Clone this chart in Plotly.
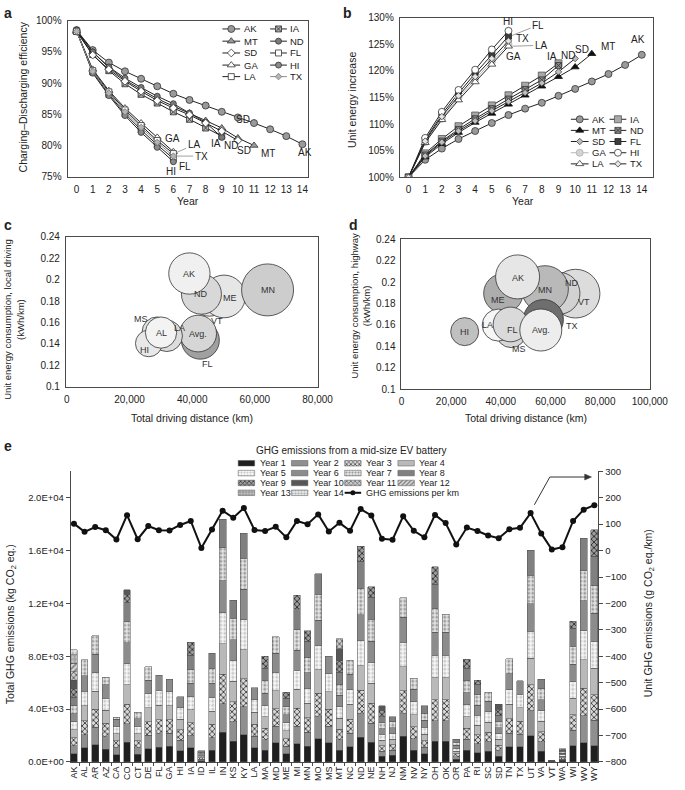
import plotly.graph_objects as go

W, H = 685, 790
FONT = "Liberation Sans, Arial, Helvetica, sans-serif"
INK = "#222222"
AXIS = "#4a4a4a"

# ---------------- Panel a: charging-discharging efficiency (%) ----------------
years = list(range(15))
eff_AK = [98.5, 95.3, 93.3, 91.9, 90.7, 89.5, 88.3, 87.3, 86.4, 85.4, 84.5, 83.6, 82.6, 81.5, 80.2]
eff_IA = [98.3, 94.6, 92.0, 89.9, 88.2, 86.8, 85.4, 84.2, 82.8, 81.5]
eff_MT = [98.3, 95.0, 92.5, 90.5, 89.0, 87.5, 86.3, 85.2, 84.0, 82.8, 81.2, 80.0]
eff_ND = [98.5, 95.0, 92.6, 90.8, 89.3, 87.9, 86.7, 85.2, 83.7, 81.3]
eff_SD = [98.3, 94.5, 92.2, 90.3, 88.7, 87.2, 86.0, 84.9, 83.6, 82.3, 80.8]
eff_FL = [98.3, 91.8, 88.2, 85.1, 82.5, 80.1, 77.9]
eff_GA = [98.3, 92.2, 88.8, 86.0, 83.6, 81.3, 79.0]
eff_HI = [98.5, 91.6, 88.0, 84.8, 82.1, 79.7, 77.4]
eff_LA = [98.3, 92.0, 88.6, 85.7, 83.2, 80.8, 78.7]
eff_TX = [98.3, 91.9, 88.4, 85.4, 82.9, 80.5, 78.3]

# ---------------- Panel b: unit energy increase (%) ----------------
inc_AK = [100, 103.3, 105.4, 107.2, 108.7, 110.2, 111.7, 112.9, 114.0, 115.3, 116.6, 118.0, 119.4, 121.1, 123.0]
inc_IA = [100, 104.5, 107.2, 109.6, 111.6, 113.5, 115.4, 117.2, 119.1, 121.4]
inc_MT = [100, 103.8, 106.3, 108.4, 110.3, 112.0, 113.7, 115.4, 117.1, 118.9, 120.7, 123.2]
inc_ND = [100, 104.2, 106.8, 109.0, 111.0, 112.9, 114.7, 116.5, 118.3, 121.0]
inc_SD = [100, 104.0, 106.6, 108.7, 110.6, 112.5, 114.2, 115.9, 117.7, 119.8, 122.3]
inc_FL = [100, 107.0, 111.8, 115.8, 119.5, 123.0, 126.5]
inc_GA = [100, 106.6, 111.0, 114.9, 118.4, 121.7, 125.0]
inc_HI = [100, 107.4, 112.3, 116.4, 120.2, 124.0, 127.5]
inc_LA = [100, 106.5, 110.8, 114.5, 117.9, 121.2, 124.6]
inc_TX = [100, 106.8, 111.4, 115.3, 118.9, 122.3, 125.6]

line_series = ["AK", "IA", "MT", "ND", "SD", "FL", "GA", "HI", "LA", "TX"]
a_ticks = [75, 80, 85, 90, 95, 100]
a_ticktext = ["75%", "80%", "85%", "90%", "95%", "100%"]
b_ticks = [100, 105, 110, 115, 120, 125, 130]
b_ticktext = ["100%", "105%", "110%", "115%", "120%", "125%", "130%"]

# ---------------- Panel c: local driving bubbles ----------------
c_states = ["VT", "ME", "ND", "AK", "MN", "FL", "Avg.", "LA", "MS", "HI", "AL"]
c_distance = [45500, 50150, 42950, 39100, 64050, 42600, 41900, 31900, 28800, 26150, 30050]
c_consumption = [0.1830, 0.1843, 0.1864, 0.2057, 0.1904, 0.1435, 0.1497, 0.1475, 0.1512, 0.1405, 0.1506]
c_bubble = [36.7, 42.7, 40.0, 41.3, 52.0, 38.0, 36.7, 31.3, 30.0, 26.7, 31.3]

# ---------------- Panel d: highway bubbles ----------------
d_states = ["VT", "ND", "MN", "ME", "AK", "TX", "MS", "LA", "FL", "Avg.", "HI"]
d_distance = [70100, 63400, 57800, 41000, 46750, 57150, 44150, 38950, 43900, 56100, 25450]
d_consumption = [0.1892, 0.1895, 0.1935, 0.1895, 0.2048, 0.1651, 0.1529, 0.1599, 0.1605, 0.1553, 0.1538]
d_bubble = [48.7, 42.0, 46.7, 39.3, 44.0, 40.0, 30.0, 32.0, 34.7, 42.0, 28.0]
cd_yticks = [0.1, 0.12, 0.14, 0.16, 0.18, 0.2, 0.22, 0.24]

# ---------------- Panel e: GHG emissions per state, by battery year ----------------
states = ["AK", "AL", "AR", "AZ", "CA", "CO", "CT", "DE", "FL", "GA", "HI", "IA", "ID", "IL", "IN",
          "KS", "KY", "LA", "MA", "MD", "ME", "MI", "MN", "MO", "MS", "MT", "NC", "ND", "NE", "NH",
          "NJ", "NM", "NV", "NY", "OH", "OK", "OR", "PA", "RI", "SC", "SD", "TN", "TX", "UT", "VA",
          "VT", "WA", "WI", "WV", "WY"]
seg_AK = [620, 600, 600, 610, 610, 620, 620, 630, 630, 640, 640, 650, 660, 370]
seg_AL = [1070, 990, 1040, 1140, 1120, 1170, 1190]
seg_AR = [1290, 1330, 1350, 1380, 1400, 1420, 1380]
seg_AZ = [950, 940, 1040, 990, 920, 990, 570]
seg_CA = [550, 520, 540, 540, 550, 540, 130]
seg_CO = [1490, 1390, 1490, 1490, 1590, 1560, 1610, 1440, 640, 320]
seg_CT = [570, 500, 530, 540, 560, 580, 465]
seg_DE = [1000, 1020, 1040, 1060, 1080, 1000, 1020]
seg_FL = [1120, 1030, 1060, 1100, 1120, 1140]
seg_GA = [1190, 1000, 1020, 1040, 1080, 945]
seg_HI = [850, 780, 800, 820, 840, 845]
seg_IA = [1070, 930, 960, 980, 1000, 1020, 1040, 1060, 990]
seg_ID = [100, 100, 100, 105, 105, 110, 110, 113]
seg_IL = [890, 960, 990, 1010, 1040, 1060, 1100, 1160]
seg_IN = [2230, 2170, 2230, 2300, 2360, 2420, 2500, 2170]
seg_KS = [1560, 1480, 1510, 1540, 1560, 1590, 1620, 1370]
seg_KY = [2060, 2100, 2150, 2200, 2250, 2300, 2350, 1900]
seg_LA = [1080, 860, 900, 920, 940, 900]
seg_MA = [870, 820, 850, 870, 890, 910, 930, 950, 920]
seg_MD = [1440, 1280, 1320, 1360, 1390, 1430, 1250]
seg_ME = [620, 560, 580, 590, 600, 610, 620, 630, 470]
seg_MI = [1360, 1340, 1380, 1420, 1460, 1500, 1540, 1580, 1020]
seg_MN = [1190, 1060, 1090, 1110, 1140, 1160, 1180, 1200, 790]
seg_MO = [1740, 1700, 1750, 1800, 1850, 1900, 1950, 1570]
seg_MS = [1440, 1260, 1300, 1330, 1360, 1320]
seg_MT = [890, 790, 810, 830, 850, 860, 870, 880, 890, 900, 755]
seg_NC = [1140, 1040, 1070, 1100, 1130, 1160, 1050]
seg_ND = [1885, 1750, 1800, 1850, 1900, 1950, 2000, 2050, 1135]
seg_NE = [1490, 1450, 1490, 1530, 1570, 1610, 1650, 1690, 790]
seg_NH = [420, 400, 410, 420, 430, 440, 450, 460, 470, 340]
seg_NJ = [500, 400, 410, 420, 430, 440, 450, 370]
seg_NM = [1930, 1700, 1760, 1810, 1860, 1910, 1450]
seg_NV = [870, 880, 910, 930, 950, 970, 840]
seg_NY = [620, 480, 500, 510, 520, 530, 540, 540]
seg_OH = [1560, 1550, 1600, 1650, 1700, 1750, 1800, 1850, 1320]
seg_OK = [1560, 1560, 1600, 1650, 1700, 1750, 1365]
seg_OR = [200, 200, 210, 215, 220, 225, 230, 236]
seg_PA = [890, 820, 850, 870, 890, 910, 930, 950, 650]
seg_RI = [690, 680, 700, 720, 740, 760, 780, 800, 330]
seg_SC = [795, 720, 740, 760, 780, 800, 685]
seg_SD = [446, 410, 420, 430, 440, 450, 460, 470, 480, 359]
seg_TN = [1140, 1050, 1080, 1110, 1140, 1170, 1120]
seg_TX = [1140, 960, 990, 1010, 1030, 1020]
seg_UT = [1985, 1900, 1950, 2000, 2050, 2100, 2150, 1885]
seg_VA = [795, 740, 760, 780, 800, 820, 840, 740]
seg_VT = [10, 10, 10, 10, 10, 10, 10, 10, 10, 10]
seg_WA = [110, 105, 108, 110, 112, 114, 116, 118, 97]
seg_WI = [1240, 1150, 1190, 1230, 1270, 1310, 1350, 1390, 530]
seg_WV = [1440, 2050, 2100, 2150, 2200, 2250, 2300, 2450]
seg_WY = [1240, 1900, 1950, 2000, 2050, 2100, 2150, 2200, 1970]

ghg_per_km = [102, 71, 89, 77, 42, 134, 43, 93, 77, 76, 97, 112, 10, 80, 151,
              124, 161, 78, 74, 90, 50, 112, 100, 137, 72, 105, 75, 157, 133, 45,
              41, 130, 75, 50, 135, 104, 23, 87, 74, 57, 47, 81, 86, 142, 65,
              4, 13, 112, 155, 172]

e_left_ticks = [0, 4000, 8000, 12000, 16000, 20000]
e_left_text = ["0.0E+00", "4.0E+03", "8.0E+03", "1.2E+04", "1.6E+04", "2.0E+04"]
e_right_ticks = [-800, -700, -600, -500, -400, -300, -200, -100, 0, 100, 200, 300]
year_names = ["Year %d" % k for k in range(1, 15)]

# ------------------------------------------------------------------------------
state_segments = [seg_AK, seg_AL, seg_AR, seg_AZ, seg_CA, seg_CO, seg_CT, seg_DE, seg_FL, seg_GA,
                  seg_HI, seg_IA, seg_ID, seg_IL, seg_IN, seg_KS, seg_KY, seg_LA, seg_MA, seg_MD,
                  seg_ME, seg_MI, seg_MN, seg_MO, seg_MS, seg_MT, seg_NC, seg_ND, seg_NE, seg_NH,
                  seg_NJ, seg_NM, seg_NV, seg_NY, seg_OH, seg_OK, seg_OR, seg_PA, seg_RI, seg_SC,
                  seg_SD, seg_TN, seg_TX, seg_UT, seg_VA, seg_VT, seg_WA, seg_WI, seg_WV, seg_WY]
a_values = dict(AK=eff_AK, IA=eff_IA, MT=eff_MT, ND=eff_ND, SD=eff_SD,
                FL=eff_FL, GA=eff_GA, HI=eff_HI, LA=eff_LA, TX=eff_TX)
b_values = dict(AK=inc_AK, IA=inc_IA, MT=inc_MT, ND=inc_ND, SD=inc_SD,
                FL=inc_FL, GA=inc_GA, HI=inc_HI, LA=inc_LA, TX=inc_TX)

# styles
a_style = {
    "AK": dict(sym="circle", fill="#9a9a9a", size=7, lc="#222", mlc="#333"),
    "IA": dict(sym="square-x", fill="#b0b0b0", size=6, lc="#222", mlc="#333"),
    "MT": dict(sym="triangle-up", fill="#9a9a9a", size=7, lc="#222", mlc="#333"),
    "ND": dict(sym="circle", fill="#7a7a7a", size=6, lc="#222", mlc="#333"),
    "SD": dict(sym="diamond", fill="#ffffff", size=6, lc="#222", mlc="#333"),
    "FL": dict(sym="square", fill="#ffffff", size=6, lc="#222", mlc="#333"),
    "GA": dict(sym="triangle-up", fill="#ffffff", size=7, lc="#222", mlc="#333"),
    "HI": dict(sym="circle", fill="#8a8a8a", size=6, lc="#222", mlc="#333"),
    "LA": dict(sym="square", fill="#ffffff", size=6, lc="#222", mlc="#333"),
    "TX": dict(sym="diamond", fill="#b4b4b4", size=5, lc="#8a8a8a", mlc="#777"),
}
b_style = {
    "AK": dict(sym="circle", fill="#9a9a9a", size=7, lc="#222", mlc="#333"),
    "IA": dict(sym="square", fill="#a8a8a8", size=7, lc="#222", mlc="#555"),
    "MT": dict(sym="triangle-up", fill="#111111", size=7, lc="#222", mlc="#111"),
    "ND": dict(sym="square-x", fill="#8a8a8a", size=6, lc="#222", mlc="#333"),
    "SD": dict(sym="diamond", fill="#bdbdbd", size=5, lc="#222", mlc="#444"),
    "FL": dict(sym="square", fill="#3c3c3c", size=6, lc="#222", mlc="#222"),
    "GA": dict(sym="circle", fill="#d4d4d4", size=7, lc="#b8b8b8", mlc="#b0b0b0"),
    "HI": dict(sym="circle", fill="#ffffff", size=7, lc="#222", mlc="#333"),
    "LA": dict(sym="triangle-up", fill="#ffffff", size=7, lc="#222", mlc="#333"),
    "TX": dict(sym="diamond", fill="#e4e4e4", size=5, lc="#222", mlc="#444"),
}
year_style = [
    dict(bg="#1f1f1f", shape="", fg="#1f1f1f"),
    dict(bg="#8f8f8f", shape="", fg="#8f8f8f"),
    dict(bg="#d8d8d8", shape="x", fg="#3a3a3a"),
    dict(bg="#b9b9b9", shape="", fg="#b9b9b9"),
    dict(bg="#f8f8f8", shape=".", fg="#c8c8c8"),
    dict(bg="#8c8c8c", shape="", fg="#8c8c8c"),
    dict(bg="#e6e6e6", shape=".", fg="#9a9a9a"),
    dict(bg="#808080", shape="", fg="#808080"),
    dict(bg="#9c9c9c", shape="x", fg="#2a2a2a"),
    dict(bg="#575757", shape="", fg="#575757"),
    dict(bg="#cbcbcb", shape="x", fg="#5a5a5a"),
    dict(bg="#d8d8d8", shape="/", fg="#777777"),
    dict(bg="#9d9d9d", shape=".", fg="#c4c4c4"),
    dict(bg="#e8e8e8", shape=".", fg="#b0b0b0"),
]
c_colors = ["#e4e4e4", "#e6e6e6", "#d8d8d8", "#f0f0f0", "#cdcdcd", "#a0a0a0",
            "#d6d6d6", "#dcdcdc", "#e4e4e4", "#e8e8e8", "#f3f3f3"]
c_shift = [(8, -23), (6, -2), (0, 0), (0, 0), (0, 0), (7, -24), (0, 0), (13, 8), (-16, 13), (-4, -7), (0, 0)]
d_colors = ["#dcdcdc", "#d2d2d2", "#b9b9b9", "#adadad", "#e6e6e6", "#6e6e6e",
            "#d6d6d6", "#f6f6f6", "#dadada", "#ededed", "#c0c0c0"]
d_shift = [(8, -8), (13, 10), (0, -1), (-5, -7), (0, -1), (29, -6), (8, -16), (-11, 0), (2, -6), (0, 0), (0, 0)]

BOX = {"a": (66.7, 15, 315, 173.3), "b": (410, 11.7, 671.7, 174),
       "c": (65, 234.3, 325, 386.7), "d": (411.7, 236.7, 668.3, 389.3),
       "e": (70, 472.5, 615, 767.6)}


def dom(key):
    x0, y0, x1, y1 = BOX[key]
    return [x0 / W, x1 / W], [1 - y1 / H, 1 - y0 / H]


def tf(size=10):
    return dict(family=FONT, size=size, color=INK)


fig = go.Figure()
ann = []
shapes = []

# ---- panels a and b ----
for key, xa, ya, values, style in (("a", "x", "y", a_values, a_style), ("b", "x2", "y2", b_values, b_style)):
    for name in line_series:
        st = style[name]
        vals = values[name]
        fig.add_trace(go.Scatter(
            x=years[:len(vals)], y=vals, xaxis=xa, yaxis=ya, mode="lines+markers", name=name,
            line=dict(color=st["lc"], width=1),
            marker=dict(symbol=st["sym"], size=st["size"], color=st["fill"],
                        line=dict(color=st["mlc"], width=0.8)),
            showlegend=False, hoverinfo="x+y+name"))


# manual legends (pixel overlay axis x7/y7)
def line_legend(style, col_x, row_y):
    for i, name in enumerate(line_series):
        r, c = divmod(i, 2)
        x0, x1 = col_x[c]
        y = row_y[r]
        st = style[name]
        fig.add_trace(go.Scatter(
            x=[x0, (x0 + x1) / 2, x1], y=[y, y, y], xaxis="x7", yaxis="y7", mode="lines+markers",
            line=dict(color=st["lc"], width=1),
            marker=dict(symbol=st["sym"], size=st["size"], color=st["fill"],
                        line=dict(color=st["mlc"], width=0.8), opacity=[0, 1, 0]),
            showlegend=False, hoverinfo="skip"))
        ann.append(dict(x=x1 + 1.5, y=y, xref="x7", yref="y7", text=name, showarrow=False,
                        xanchor="left", yanchor="middle", font=tf(9.5)))


line_legend(a_style, [(226.7, 245), (276, 293.3)], [23.3, 35.7, 47.7, 60, 71.7])
line_legend(b_style, [(586.7, 605), (626.7, 644)], [115, 126.3, 137.6, 149, 160.3])

a_labels = [("GA", 5.94, 81.05), ("FL", 6.7, 76.7), ("HI", 5.84, 75.8), ("IA", 8.64, 80.3),
            ("ND", 9.6, 80.0), ("SD", 10.4, 79.2), ("MT", 11.84, 78.7), ("AK", 14.18, 78.95),
            ("SD", 10.34, 84.2)]
for t, x, y in a_labels:
    ann.append(dict(x=x, y=y, xref="x", yref="y", text=t, showarrow=False, font=tf(10)))
ann.append(dict(x=6.05, y=eff_LA[6], xref="x", yref="y", text="LA", showarrow=True, arrowhead=0,
                arrowwidth=0.8, arrowcolor="#888", ax=20, ay=-9, font=tf(10), standoff=2))
ann.append(dict(x=6.05, y=eff_TX[6], xref="x", yref="y", text="TX", showarrow=True, arrowhead=0,
                arrowwidth=0.8, arrowcolor="#888", ax=27, ay=0, font=tf(10), standoff=2))

b_labels = [("HI", 5.96, 129.2), ("TX", 6.87, 126.0), ("GA", 6.29, 122.6), ("IA", 8.64, 122.6),
            ("ND", 9.55, 122.9), ("SD", 10.42, 124.0), ("MT", 11.97, 124.6), ("AK", 13.8, 125.8)]
for t, x, y in b_labels:
    ann.append(dict(x=x, y=y, xref="x2", yref="y2", text=t, showarrow=False, font=tf(10)))
ann.append(dict(x=6.1, y=inc_FL[6], xref="x2", yref="y2", text="FL", showarrow=True, arrowhead=0,
                arrowwidth=0.8, arrowcolor="#888", ax=28, ay=-11, font=tf(10), standoff=2))
ann.append(dict(x=6.1, y=inc_LA[6], xref="x2", yref="y2", text="LA", showarrow=True, arrowhead=0,
                arrowwidth=0.8, arrowcolor="#888", ax=31, ay=-1, font=tf(10), standoff=2))

# ---- panels c and d ----
for xa, ya, xs, ys, sz, cols, names, shifts in (
        ("x3", "y3", c_distance, c_consumption, c_bubble, c_colors, c_states, c_shift),
        ("x4", "y4", d_distance, d_consumption, d_bubble, d_colors, d_states, d_shift)):
    fig.add_trace(go.Scatter(
        x=xs, y=ys, xaxis=xa, yaxis=ya, mode="markers", text=names,
        marker=dict(size=sz, sizemode="diameter", color=cols, opacity=1,
                    line=dict(color="#333", width=0.8)),
        showlegend=False, hoverinfo="text+x+y"))
    for n, x, y, (sx, sy) in zip(names, xs, ys, shifts):
        ann.append(dict(x=x, y=y, xref=xa, yref=ya, text=n, showarrow=False, xshift=sx, yshift=sy,
                        font=dict(family=FONT, size=9, color="#333")))

# ---- panel e ----
for k in range(14):
    st = year_style[k]
    yv = [s[k] if len(s) > k else None for s in state_segments]
    pat = dict(shape=st["shape"], fgcolor=st["fg"], bgcolor=st["bg"], size=4, solidity=0.4,
               fillmode="replace")
    fig.add_trace(go.Bar(
        x=states, y=yv, xaxis="x5", yaxis="y5", name=year_names[k],
        marker=dict(color=st["bg"], line=dict(color="#4d4d4d", width=0.5), pattern=pat),
        showlegend=False))
fig.add_trace(go.Scatter(
    x=states, y=ghg_per_km, xaxis="x5", yaxis="y6", mode="lines+markers",
    name="GHG emissions per km", line=dict(color="#111", width=2),
    marker=dict(color="#111", size=6), showlegend=False))

# e legend (manual)
col_x = [243, 298, 353, 408]
row_y = [464.3, 474.3, 484.3, 494.3]
for k in range(14):
    r, c = divmod(k, 4)
    x0 = col_x[c]
    x1 = x0 + 17
    y = row_y[r]
    st = year_style[k]
    fig.add_trace(go.Scatter(
        x=[x0, x1, x1, x0, x0], y=[y - 2.8, y - 2.8, y + 2.8, y + 2.8, y - 2.8],
        xaxis="x7", yaxis="y7", mode="lines", fill="toself", fillcolor=st["bg"],
        fillpattern=dict(shape=st["shape"], fgcolor=st["fg"], bgcolor=st["bg"], size=3,
                         solidity=0.4, fillmode="replace") if st["shape"] else None,
        line=dict(color="#555", width=0.5), showlegend=False, hoverinfo="skip"))
    ann.append(dict(x=x1 + 3, y=y, xref="x7", yref="y7", text=year_names[k], showarrow=False,
                    xanchor="left", yanchor="middle", font=tf(9)))
gx0, gx1, gy = col_x[2], col_x[2] + 17, row_y[3]
fig.add_trace(go.Scatter(
    x=[gx0, (gx0 + gx1) / 2, gx1], y=[gy, gy, gy], xaxis="x7", yaxis="y7", mode="lines+markers",
    line=dict(color="#111", width=2), marker=dict(color="#111", size=5, opacity=[0, 1, 0]),
    showlegend=False, hoverinfo="skip"))
ann.append(dict(x=gx1 + 3, y=gy, xref="x7", yref="y7", text="GHG emissions per km",
                showarrow=False, xanchor="left", yanchor="middle", font=tf(9)))
ann.append(dict(x=360, y=451, xref="x7", yref="y7", text="GHG emissions from a mid-size EV battery",
                showarrow=False, font=tf(10)))

# arrow to the right axis (drawn as shapes)
shapes.append(dict(type="line", xref="x7", yref="y7", x0=549, y0=506.5, x1=565, y1=478.3,
                   line=dict(color="#333", width=1)))
shapes.append(dict(type="line", xref="x7", yref="y7", x0=565, y0=478.3, x1=602, y1=478.3,
                   line=dict(color="#333", width=1)))
shapes.append(dict(type="path", xref="x7", yref="y7", path="M 601 475.3 L 608 478.3 L 601 481.3 Z",
                   fillcolor="#333", line=dict(color="#333", width=0.5)))


# ---- axis titles & panel letters ----
def txt(x, y, t, size=10, angle=0, bold=False):
    ann.append(dict(x=x, y=y, xref="x7", yref="y7", text=("<b>%s</b>" % t) if bold else t,
                    showarrow=False, textangle=angle, font=tf(size), xanchor="center", yanchor="middle"))


txt(20.5, 92, "Charging–Discharging efficiency", 10.5, -90)
txt(191, 198, "Year", 10.5)
txt(360, 95, "Unit energy increase", 10.5, -90)
txt(537, 198, "Year", 10.5)
txt(11, 318, "Unit energy consumption, local driving<br>(kWh/km)", 9.5, -90)
txt(195, 418, "Total driving distance (km)", 10.5)
txt(369, 305, "Unit energy consumption, highway<br>(kWh/km)", 9.5, -90)
txt(540, 418, "Total driving distance (km)", 10.5)
txt(9, 628, "Total GHG emissions (kg CO<sub>2</sub> eq.)", 10.5, -90)
txt(667, 617, "Unit GHG emissions (g CO<sub>2</sub> eq./km)", 10.5, -90)
for L, x, y in (("a", 5, 7), ("b", 356, 7), ("c", 5, 222), ("d", 362, 222), ("e", 5, 447)):
    txt(x, y, L, 14, 0, True)


def framed(key, which, anchor, rng, **kw):
    xd, yd = dom(key)
    d = dict(domain=xd if which == "x" else yd, anchor=anchor, range=rng, showline=True,
             linecolor=AXIS, linewidth=1, mirror=True, ticks="", showgrid=False, zeroline=False,
             tickfont=tf(10), ticklabelstandoff=3, fixedrange=True)
    d.update(kw)
    return d


xd_e, yd_e = dom("e")
fig.update_layout(
    width=W, height=H, autosize=False, margin=dict(l=0, r=0, t=0, b=0, pad=0),
    paper_bgcolor="white", plot_bgcolor="rgba(0,0,0,0)", font=tf(10), showlegend=False,
    barmode="stack", bargap=0.36,
    xaxis=framed("a", "x", "y", [-0.56, 14.34], tickmode="array", tickvals=years),
    yaxis=framed("a", "y", "x", [75, 100], tickmode="array", tickvals=a_ticks, ticktext=a_ticktext),
    xaxis2=framed("b", "x", "y2", [-0.52, 14.68], tickmode="array", tickvals=years),
    yaxis2=framed("b", "y", "x2", [100, 130], tickmode="array", tickvals=b_ticks, ticktext=b_ticktext),
    xaxis3=framed("c", "x", "y3", [-300, 80000], tickmode="array",
                  tickvals=[0, 20000, 40000, 60000, 80000], tickformat=","),
    yaxis3=framed("c", "y", "x3", [0.1, 0.24], tickmode="array", tickvals=cd_yticks, tickformat=".2~f"),
    xaxis4=framed("d", "x", "y4", [0, 100000], tickmode="array",
                  tickvals=[0, 20000, 40000, 60000, 80000, 100000], tickformat=","),
    yaxis4=framed("d", "y", "x4", [0.1, 0.24], tickmode="array", tickvals=cd_yticks, tickformat=".2~f"),
    xaxis5=dict(domain=xd_e, anchor="y5", type="category", range=[-0.3, 49.37], showline=True,
                linecolor=AXIS, linewidth=1, ticks="outside", tickson="boundaries", ticklen=3,
                tickcolor=AXIS, tickangle=-90, tickfont=tf(9), showgrid=False, zeroline=False,
                tickmode="array", tickvals=states, ticktext=states, fixedrange=True),
    yaxis5=dict(domain=yd_e, anchor="x5", range=[0, 22000], tickmode="array", tickvals=e_left_ticks,
                ticktext=e_left_text, showline=True, linecolor=AXIS, linewidth=1, ticks="outside",
                ticklen=4, tickcolor=AXIS, tickfont=tf(9.5), showgrid=False, zeroline=False,
                fixedrange=True),
    yaxis6=dict(overlaying="y5", anchor="x5", side="right", range=[-800, 300], tickmode="array",
                tickvals=e_right_ticks, showline=True, linecolor=AXIS, linewidth=1,
                ticks="outside", ticklen=4, tickcolor=AXIS, tickfont=tf(9.5), showgrid=False,
                zeroline=False, fixedrange=True),
    xaxis7=dict(domain=[0, 1], anchor="y7", range=[0, W], visible=False, fixedrange=True),
    yaxis7=dict(domain=[0, 1], anchor="x7", range=[H, 0], visible=False, fixedrange=True),
    annotations=ann, shapes=shapes,
)

fig.write_html("out.html", config={"displayModeBar": False},
               post_script="document.body.style.margin='0';")
